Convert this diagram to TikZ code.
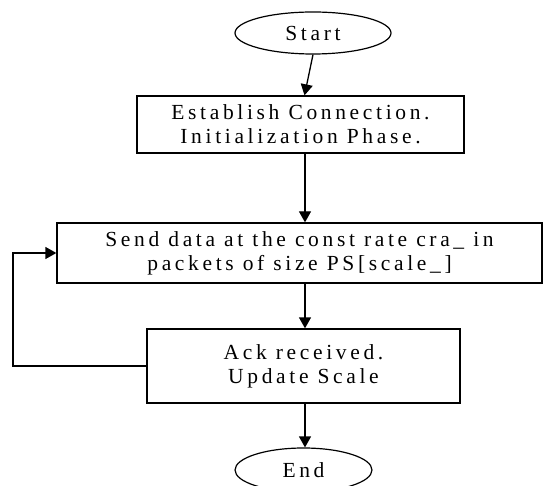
\documentclass[tikz,border=0pt]{standalone}
\usepackage{fontspec}
\setmainfont{Liberation Serif}[LetterSpace=17]
\usetikzlibrary{shapes.geometric,arrows.meta,calc}

\tikzset{
  flowline/.style={line width=1.3pt, draw=black},
  flowarrow/.style={flowline, -{Triangle[width=12pt,length=11pt]}},
  stepbox/.style={draw=black, line width=1.3pt, rectangle, inner sep=0pt,
                  align=center, font=\fontsize{21.5}{24}\selectfont},
  terminal/.style={draw=black, line width=1.2pt, ellipse, inner sep=0pt,
                   font=\fontsize{21.5}{24}\selectfont}
}

\begin{document}
\begin{tikzpicture}[x=1pt, y=-1pt]
  \clip (0,0) rectangle (543,486);
  \fill[white] (0,0) rectangle (543,486);

  % terminals and process steps
  \node[terminal, minimum width=156pt, minimum height=42pt] (start) at (313,33) {Start};
  \node[stepbox, minimum width=327pt, minimum height=57pt] (init) at (300.5,124.5)
    {Establish Connection.\\Initialization Phase.};
  \node[stepbox, minimum width=485pt, minimum height=60pt] (send) at (299.5,253)
    {Send data at the const rate cra\_ in\\packets of size PS[scale\_]};
  \node[stepbox, minimum width=313pt, minimum height=74pt] (ack) at (303.5,366)
    {Ack received.\\Update Scale};
  \node[terminal, minimum width=137pt, minimum height=44pt] (end) at (303.5,470) {End};

  % column of the vertical connectors
  \coordinate (col) at (305,0);
  \coordinate (loopL) at (13,0);

  \draw[flowarrow] (start.south) -- ($(init.north)+(4,0)$);
  \draw[flowarrow] (init.south -| col) -- (send.north -| col);
  \draw[flowarrow] (send.south -| col) -- (ack.north -| col);
  \draw[flowarrow] (ack.south -| col) -- (end.north -| col);

  % feedback loop from the acknowledgement back to sending
  \draw[flowarrow] (ack.west) -- (ack.west -| loopL) -- (send.west -| loopL) -- (send.west);
\end{tikzpicture}
\end{document}
